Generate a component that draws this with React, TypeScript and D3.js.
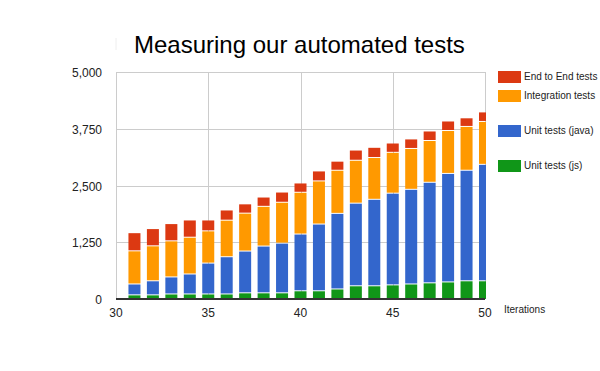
import React from "react";
import * as d3 from "d3";

const iterations = [31, 32, 33, 34, 35, 36, 37, 38, 39, 40, 41, 42, 43, 44, 45, 46, 47, 48, 49, 50];
const unitJs = [80, 80, 100, 100, 100, 100, 125, 125, 125, 170, 170, 210, 280, 280, 300, 320, 345, 365, 390, 390];
const unitJava = [240, 310, 375, 440, 680, 820, 920, 1030, 1095, 1250, 1470, 1665, 1820, 1905, 2020, 2085, 2215, 2390, 2435, 2565];
const integration = [730, 770, 795, 810, 710, 805, 835, 875, 900, 920, 950, 950, 945, 920, 900, 900, 920, 945, 965, 945];
const endToEnd = [400, 380, 380, 380, 240, 225, 205, 205, 225, 205, 220, 200, 225, 225, 205, 210, 210, 210, 190, 210];

const seriesNames = ["Unit tests (js)", "Unit tests (java)", "Integration tests", "End to End tests"];
const seriesColors = ["#109618", "#3366cc", "#ff9900", "#dc3912"];
const yTicks = [0, 1250, 2500, 3750, 5000];
const xTicks = [30, 35, 40, 45, 50];
const title = "Measuring our automated tests";
const xAxisTitle = "Iterations";

const FONT = "'Liberation Sans', Arial, sans-serif";

export default function App() {
  const left = 116, right = 485, top = 72, bottom = 299;
  const x = d3.scaleLinear().domain([30, 50]).range([left, right]);
  const y = d3.scaleLinear().domain([0, 5000]).range([bottom, top]);
  const fmt = d3.format(",");
  const barW = 12;

  const table = iterations.map((it, i) => ({
    it,
    s0: unitJs[i],
    s1: unitJava[i],
    s2: integration[i],
    s3: endToEnd[i],
  }));
  const stacked = d3.stack<any>().keys(["s0", "s1", "s2", "s3"])(table);

  const legend = [
    { name: seriesNames[3], color: seriesColors[3], y: 71 },
    { name: seriesNames[2], color: seriesColors[2], y: 90 },
    { name: seriesNames[1], color: seriesColors[1], y: 125 },
    { name: seriesNames[0], color: seriesColors[0], y: 160 },
  ];

  return (
    <svg
      width={600}
      height={371}
      style={{ position: "fixed", left: 0, top: 0, background: "#fff" }}
      fontFamily={FONT}
    >
      <defs>
        <clipPath id="plotclip">
          <rect x={left} y={0} width={right - left + 1} height={bottom + 1} />
        </clipPath>
      </defs>
      <rect x={0} y={0} width={600} height={371} fill="#fff" />
      <line x1={116} x2={116} y1={38} y2={50} stroke="#eeeeee" strokeWidth={1} />
      <text x={134} y={53} fontSize={24} fill="#000">{title}</text>

      {yTicks.filter((t) => t > 0).map((t) => (
        <line key={"h" + t} x1={left} x2={right} y1={Math.round(y(t)) + 0.5} y2={Math.round(y(t)) + 0.5} stroke="#cccccc" />
      ))}
      {xTicks.map((t) => (
        <line key={"v" + t} x1={Math.round(x(t)) + 0.5} x2={Math.round(x(t)) + 0.5} y1={top} y2={bottom} stroke="#cccccc" />
      ))}

      <g clipPath="url(#plotclip)">
        {stacked.map((layer, li) =>
          layer.map((d, i) => {
            const yt = y(d[1]);
            const yb = y(d[0]);
            const h = li === 0 ? yb - yt : yb - yt - 1;
            return (
              <rect
                key={li + "-" + i}
                x={x(iterations[i]) - barW / 2}
                y={yt}
                width={barW}
                height={Math.max(0, h)}
                fill={seriesColors[li]}
              />
            );
          })
        )}
      </g>

      <line x1={left} x2={right} y1={bottom} y2={bottom} stroke="#333333" strokeWidth={2} />

      {yTicks.map((t) => (
        <text key={"yl" + t} x={102} y={y(t) + 5} fontSize={12} textAnchor="end" fill="#222">
          {fmt(t)}
        </text>
      ))}
      {xTicks.map((t) => (
        <text key={"xl" + t} x={x(t)} y={317} fontSize={12} textAnchor="middle" fill="#222">
          {t}
        </text>
      ))}
      <text x={504} y={313} fontSize={10} fill="#222">{xAxisTitle}</text>

      {legend.map((l) => (
        <g key={l.name}>
          <rect x={498} y={l.y} width={23} height={12} fill={l.color} />
          <text x={524} y={l.y + 9} fontSize={10} fill="#222">{l.name}</text>
        </g>
      ))}
    </svg>
  );
}
